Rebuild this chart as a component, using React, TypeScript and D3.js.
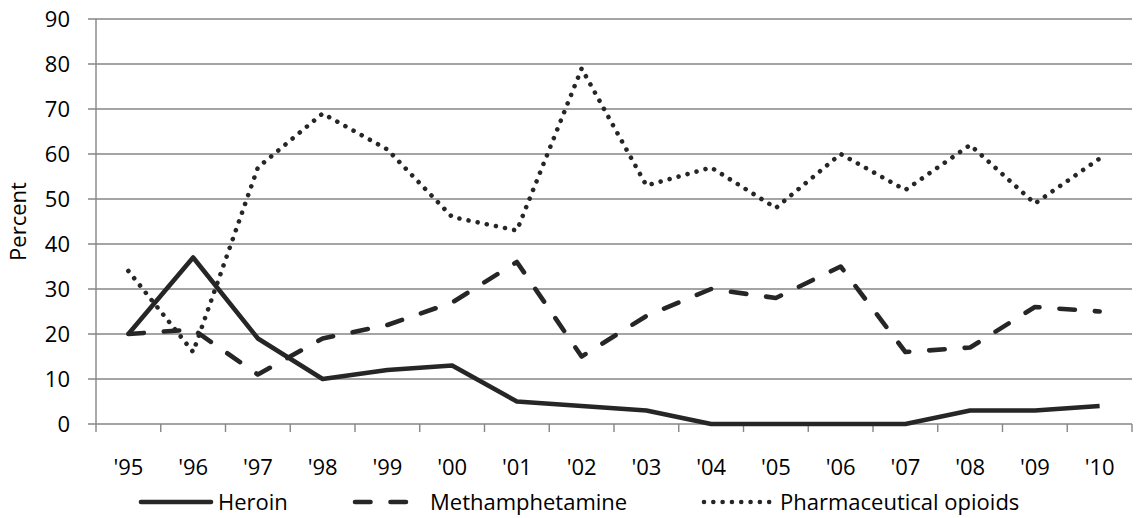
import React from "react";
import * as d3 from "d3";

const years = ["'95", "'96", "'97", "'98", "'99", "'00", "'01", "'02", "'03", "'04", "'05", "'06", "'07", "'08", "'09", "'10"];
const heroin = [20, 37, 19, 10, 12, 13, 5, 4, 3, 0, 0, 0, 0, 3, 3, 4];
const meth = [20, 21, 11, 19, 22, 27, 36, 15, 24, 30, 28, 35, 16, 17, 26, 25];
const pharma = [34, 16, 57, 69, 61, 46, 43, 79, 53, 57, 48, 60, 52, 62, 49, 59];
const yTicks = [0, 10, 20, 30, 40, 50, 60, 70, 80, 90];
const seriesNames = ["Heroin", "Methamphetamine", "Pharmaceutical opioids"];

const W = 1136, H = 518;
const left = 96, right = 1132, top = 19, bottom = 424;
const FONT = "'Open Sans', sans-serif";
const INK = "#262626";
const GRID = "#868686";
const FS = 22;

const styles = [
  { dash: undefined as string | undefined, cap: "butt" },
  { dash: "15.5 20", cap: "round" },
  { dash: "0.01 9.3", cap: "round" },
];

export default function App() {
  const x = d3.scaleBand<string>().domain(years).range([left, right]).padding(0);
  const y = d3.scaleLinear().domain([0, 90]).range([bottom, top]);
  const cx = (i: number) => (x(years[i]) as number) + x.bandwidth() / 2;
  const line = d3.line<number>().x((_, i) => cx(i)).y((v) => y(v)).curve(d3.curveLinear);
  const data = [heroin, meth, pharma];

  const legendItems = [
    { x1: 141, x2: 211, tx: 218 },
    { x1: 355, x2: 424, tx: 430 },
    { x1: 704, x2: 772, tx: 780 },
  ];
  const ly = 502;

  return (
    <svg width={W} height={H} style={{ position: "absolute", left: 0, top: 0, background: "#fff" }} fontFamily={FONT}>
      <rect x={0} y={0} width={W} height={H} fill="#fff" />
      {yTicks.map((t) => (
        <g key={t}>
          <line x1={left - 8} x2={right} y1={y(t)} y2={y(t)} stroke={GRID} strokeWidth={1.4} />
          <text x={70} y={y(t)} dy="0.36em" textAnchor="end" fontSize={FS} fill="#000">{t}</text>
        </g>
      ))}
      <line x1={left} x2={left} y1={top} y2={bottom} stroke={GRID} strokeWidth={1.4} />
      {d3.range(years.length + 1).map((i) => {
        const xx = left + i * x.bandwidth();
        return <line key={i} x1={xx} x2={xx} y1={bottom} y2={bottom + 8} stroke={GRID} strokeWidth={1.4} />;
      })}
      {years.map((yr, i) => (
        <text key={yr} x={cx(i)} y={475} textAnchor="middle" fontSize={FS} fill="#000">{yr}</text>
      ))}
      <text transform={`translate(26,${(top + bottom) / 2}) rotate(-90)`} textAnchor="middle" fontSize={FS} fill="#000">Percent</text>
      {data.map((d, k) => (
        <path key={k} d={line(d) as string} fill="none" stroke={INK} strokeWidth={4.6}
          strokeDasharray={styles[k].dash} strokeLinecap={styles[k].cap as any} strokeLinejoin="round" />
      ))}
      {legendItems.map((li, k) => (
        <g key={k}>
          <line x1={li.x1} x2={li.x2} y1={ly} y2={ly} stroke={INK} strokeWidth={4.6}
            strokeDasharray={styles[k].dash} strokeLinecap={(k === 0 ? "round" : styles[k].cap) as any} />
          <text x={li.tx} y={ly} dy="0.36em" fontSize={FS} fill="#000">{seriesNames[k]}</text>
        </g>
      ))}
    </svg>
  );
}
